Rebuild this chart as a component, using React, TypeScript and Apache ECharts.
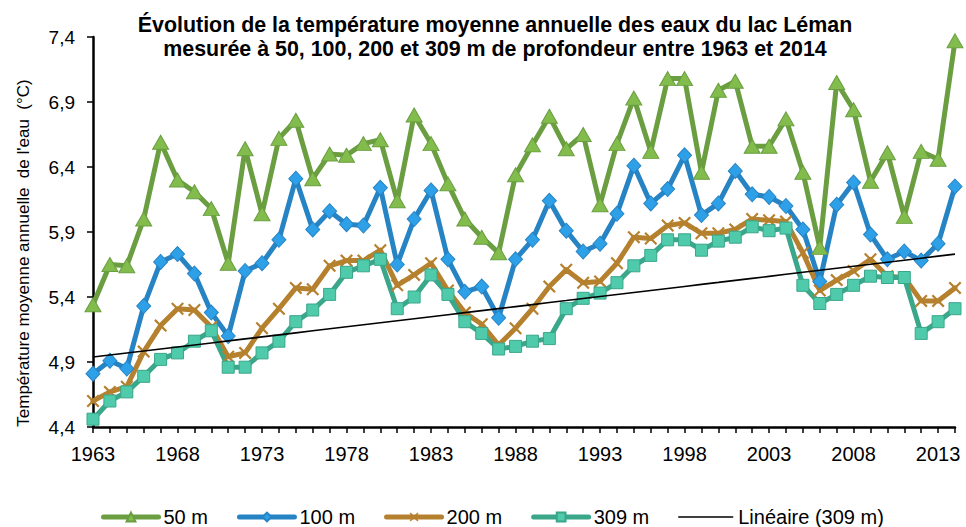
import React, { useEffect, useRef } from 'react';
import * as echarts from 'echarts';

const years = [
  '1963', '1964', '1965', '1966', '1967', '1968', '1969', '1970', '1971', '1972', '1973', '1974', '1975',
  '1976', '1977', '1978', '1979', '1980', '1981', '1982', '1983', '1984', '1985', '1986', '1987', '1988',
  '1989', '1990', '1991', '1992', '1993', '1994', '1995', '1996', '1997', '1998', '1999', '2000', '2001',
  '2002', '2003', '2004', '2005', '2006', '2007', '2008', '2009', '2010', '2011', '2012', '2013', '2014',
];

const t50 = [
  5.34, 5.65, 5.64, 6.0, 6.59, 6.3, 6.21, 6.08, 5.66, 6.54, 6.04, 6.62, 6.76,
  6.31, 6.5, 6.49, 6.58, 6.61, 6.14, 6.8, 6.58, 6.27, 6.0, 5.86, 5.74, 6.34,
  6.57, 6.79, 6.54, 6.65, 6.11, 6.58, 6.93, 6.52, 7.08, 7.08, 6.36, 6.99, 7.06,
  6.56, 6.56, 6.77, 6.36, 5.78, 7.05, 6.84, 6.29, 6.51, 6.02, 6.52, 6.46, 7.37,
];

const t100 = [
  4.81, 4.91, 4.85, 5.33, 5.67, 5.73, 5.58, 5.28, 5.1, 5.6, 5.66, 5.84, 6.31,
  5.92, 6.06, 5.96, 5.95, 6.24, 5.65, 6.0, 6.22, 5.69, 5.44, 5.48, 5.24, 5.69,
  5.84, 6.14, 5.91, 5.75, 5.81, 6.04, 6.41, 6.12, 6.23, 6.49, 6.03, 6.12, 6.37,
  6.19, 6.17, 6.1, 5.92, 5.52, 6.11, 6.28, 5.88, 5.69, 5.75, 5.68, 5.81, 6.25,
];

const t200 = [
  4.6, 4.67, 4.71, 4.98, 5.18, 5.31, 5.3, 5.17, 4.94, 4.97, 5.16, 5.31, 5.47,
  5.46, 5.64, 5.68, 5.68, 5.76, 5.49, 5.57, 5.66, 5.45, 5.28, 5.19, 5.03, 5.16,
  5.31, 5.48, 5.61, 5.51, 5.52, 5.66, 5.86, 5.85, 5.95, 5.97, 5.89, 5.89, 5.92,
  6.0, 5.99, 5.98, 5.74, 5.45, 5.53, 5.6, 5.69, 5.56, 5.55, 5.37, 5.37, 5.47,
];

const t309 = [
  4.46, 4.6, 4.67, 4.79, 4.92, 4.97, 5.06, 5.14, 4.86, 4.86, 4.97, 5.06, 5.21,
  5.3, 5.42, 5.59, 5.64, 5.69, 5.31, 5.4, 5.57, 5.42, 5.21, 5.12, 5.0, 5.02,
  5.06, 5.08, 5.31, 5.39, 5.43, 5.51, 5.64, 5.72, 5.84, 5.84, 5.76, 5.83, 5.86,
  5.94, 5.91, 5.93, 5.49, 5.35, 5.42, 5.49, 5.56, 5.55, 5.55, 5.12, 5.21, 5.31,
];

const seriesNames = ['50 m', '100 m', '200 m', '309 m', 'Linéaire (309 m)'];

const titleText =
  'Évolution de la température moyenne annuelle des eaux du lac Léman\nmesurée à 50, 100, 200 et 309 m de profondeur entre 1963 et 2014';
const yAxisTitle = "Température moyenne annuelle  de l'eau  (°C)";

// Excel-style linear trend (least squares) of the 309 m series
function linearTrend(values: number[]): number[] {
  const n = values.length;
  let sx = 0, sy = 0, sxx = 0, sxy = 0;
  values.forEach((v, i) => {
    sx += i; sy += v; sxx += i * i; sxy += i * v;
  });
  const slope = (n * sxy - sx * sy) / (n * sxx - sx * sx);
  const intercept = (sy - slope * sx) / n;
  return values.map((_, i) => +(intercept + slope * i).toFixed(4));
}

const FONT = "'Liberation Sans', Arial, sans-serif";
const crossPath =
  'path://M0,1.2L1.2,0L5,3.8L8.8,0L10,1.2L6.2,5L10,8.8L8.8,10L5,6.2L1.2,10L0,8.8L3.8,5Z';
const thinLinePath = 'path://M0,0L60,0L60,1.6L0,1.6Z';

export default function App() {
  const ref = useRef<HTMLDivElement>(null);

  useEffect(() => {
    if (!ref.current) return;
    const chart = echarts.init(ref.current, undefined, { renderer: 'svg' });
    const trend = linearTrend(t309);

    const lineSeries = (
      name: string,
      data: number[],
      lineColor: string,
      fill: string,
      symbol: string,
      symbolSize: number | number[],
      borderWidth: number,
    ) => ({
      name,
      type: 'line',
      data,
      symbol,
      symbolSize,
      showAllSymbol: true,
      lineStyle: { color: lineColor, width: 5, cap: 'round', join: 'round' },
      itemStyle: { color: fill, borderColor: lineColor, borderWidth },
      emphasis: { disabled: true },
    });

    chart.setOption({
      animation: false,
      backgroundColor: '#ffffff',
      title: {
        text: titleText,
        left: 490,
        top: 8,
        textAlign: 'center',
        textStyle: {
          fontFamily: FONT,
          fontSize: 21.4,
          fontWeight: 'bold',
          lineHeight: 24,
          color: '#000',
        },
      },
      graphic: [
        {
          type: 'text',
          x: 23,
          y: 253,
          rotation: Math.PI / 2,
          style: {
            text: yAxisTitle,
            fontFamily: FONT,
            fontSize: 17,
            fill: '#000',
            align: 'center',
            verticalAlign: 'middle',
          },
        },
      ],
      legend: {
        data: [
          { name: seriesNames[0] },
          { name: seriesNames[1] },
          { name: seriesNames[2] },
          { name: seriesNames[3] },
          { name: seriesNames[4], icon: thinLinePath, itemStyle: { color: '#000' } },
        ],
        left: 101,
        top: 507,
        padding: 0,
        itemWidth: 55,
        itemHeight: 11,
        itemGap: 29,
        lineStyle: { width: 5 },
        textStyle: { fontFamily: FONT, fontSize: 20, color: '#000' },
      },
      grid: { left: 93, right: 11, top: 37, bottom: 100, containLabel: false },
      xAxis: {
        type: 'category',
        data: years,
        boundaryGap: false,
        axisLine: { lineStyle: { color: '#000', width: 2.5 } },
        axisTick: { show: true, interval: 0, length: 6, lineStyle: { color: '#000', width: 1.5 } },
        axisLabel: {
          interval: 4,
          margin: 17,
          fontFamily: FONT,
          fontSize: 20,
          color: '#000',
        },
        splitLine: { show: false },
      },
      yAxis: {
        type: 'value',
        min: 4.4,
        max: 7.4,
        interval: 0.5,
        axisLine: { show: true, lineStyle: { color: '#000', width: 2.5 } },
        axisTick: { show: true, length: 6, lineStyle: { color: '#000', width: 1.5 } },
        axisLabel: {
          margin: 18,
          fontFamily: FONT,
          fontSize: 19,
          color: '#000',
          formatter: (v: number) => v.toFixed(1).replace('.', ','),
        },
        splitLine: { show: false },
      },
      series: [
        lineSeries(seriesNames[0], t50, '#6A9E40', '#82BC4C', 'triangle', [16, 14], 1),
        lineSeries(seriesNames[1], t100, '#2784C4', '#2EA0E8', 'diamond', [14, 15], 1),
        lineSeries(seriesNames[2], t200, '#B5812E', '#B5812E', crossPath, 13, 0),
        lineSeries(seriesNames[3], t309, '#3AA68A', '#4FCBAB', 'rect', 12, 1),
        {
          name: seriesNames[4],
          type: 'line',
          data: trend,
          symbol: 'none',
          lineStyle: { color: '#000', width: 1.6 },
          itemStyle: { color: '#000' },
          emphasis: { disabled: true },
          z: 5,
        },
      ],
    });

    return () => chart.dispose();
  }, []);

  return (
    <div
      ref={ref}
      style={{ position: 'fixed', left: 0, top: 0, width: 966, height: 527, background: '#fff' }}
    />
  );
}
